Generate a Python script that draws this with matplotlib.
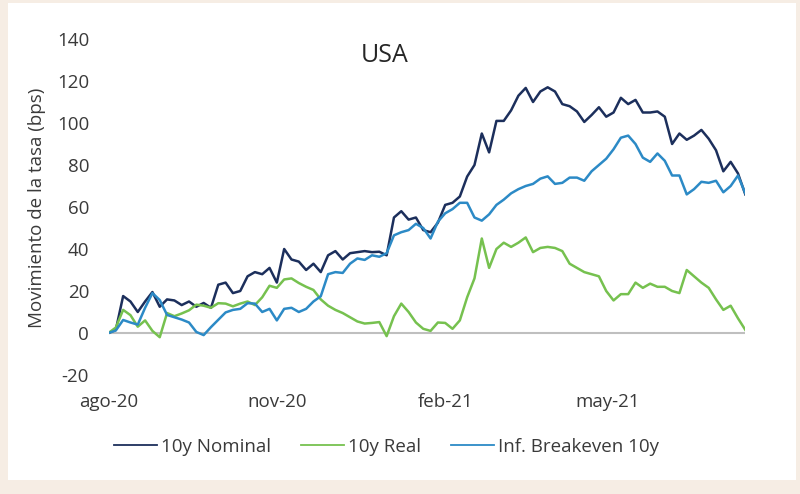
import matplotlib
matplotlib.use("Agg")
import matplotlib.pyplot as plt
import matplotlib.patches as mpatches
import matplotlib.lines as mlines
import pandas as pd

plt.rcParams['font.family'] = ['Open Sans', 'DejaVu Sans']
plt.rcParams['axes.unicode_minus'] = False

# ---- data (4-day sampling) ----
start_date = "2020-08-01"
end_date = "2021-07-15"

nominal = [0, 1.5, 17.6, 15, 10, 15, 19.5, 12.5, 16, 15.5,
           13.3, 15, 12.5, 14.3, 12, 23, 24, 19, 20, 27,
           29, 28, 31, 24, 40, 35, 34, 30, 33, 29,
           37, 39, 35, 38, 38.5, 39, 38.5, 38.7, 37, 55,
           58, 54, 55, 49, 48, 52.5, 61, 62, 65, 74.5,
           80, 95, 86, 101, 101, 106, 113, 116.7, 110, 115,
           117, 115, 109, 108, 105.5, 100.5, 103.8, 107.5, 103, 105,
           112, 109, 111, 105, 105, 105.5, 103, 90, 95, 92,
           94, 96.7, 92.5, 87, 77, 81.5, 76, 66]

real = [0, 2.6, 11, 8.5, 3, 6, 1, -2, 9.5, 8,
        9.3, 10.8, 13.5, 13, 12, 14.2, 14, 12.7, 14, 15,
        13.3, 17, 22.5, 21.5, 25.5, 26, 23.8, 22, 20.5, 16,
        13, 11, 9.5, 7.5, 5.5, 4.5, 4.8, 5.2, -1.5, 8,
        14, 10, 5, 2, 1, 5, 4.8, 2, 6, 17,
        26, 45, 31, 40, 43, 41, 43, 45.5, 38.5, 40.5,
        41, 40.5, 39, 33, 31, 29, 28, 27, 20, 15.5,
        18.5, 18.5, 24, 21.5, 23.5, 22, 22, 20, 19, 30,
        27, 24, 21.5, 16, 11, 13, 7, 1.5]

breakeven = [0, 1.2, 6.2, 5, 4, 12, 19, 15.7, 8.6, 7.5,
             6.4, 5, 0.5, -1, 2.8, 6.3, 9.8, 11, 11.5, 14.2,
             14, 10, 11.5, 6, 11.5, 12, 10, 11.5, 15, 17.5,
             28, 29, 28.6, 33, 35.5, 34.8, 37, 36.3, 38, 46.5,
             48, 49, 52, 50, 45, 53, 57, 59, 62, 62,
             55, 53.5, 56.5, 61, 63.5, 66.5, 68.5, 70, 71, 73.5,
             74.6, 71, 71.5, 74, 74, 72.5, 77, 80, 83, 87.5,
             93, 94, 90, 83.5, 81.5, 85.5, 82, 75, 75, 66,
             68.5, 72, 71.5, 72.5, 67, 70, 75, 66.5]

tick_dates = ["2020-08-01", "2020-11-01", "2021-02-01", "2021-05-01"]
tick_labels = ["ago-20", "nov-20", "feb-21", "may-21"]
y_ticks = [-20, 0, 20, 40, 60, 80, 100, 120, 140]

series_names = ["10y Nominal", "10y Real", "Inf. Breakeven 10y"]
colors = ["#1c2f5c", "#76c14f", "#2c8ac6"]

dates = pd.date_range(start_date, end_date, periods=len(nominal))

W, H = 800, 494
fig = plt.figure(figsize=(W / 100, H / 100), dpi=100)
fig.patch.set_facecolor("#f6ede4")
# white panel
fig.patches.append(mpatches.Rectangle((8 / W, 1 - 480 / H), (796 - 8) / W, (480 - 3) / H,
                                      transform=fig.transFigure, facecolor="white",
                                      edgecolor="none", zorder=-10))

ax = fig.add_axes([108.5 / W, 1 - 375 / H, (745.3 - 108.5) / W, (375 - 39) / H])
ax.set_facecolor("none")
ax.set_zorder(5)

text_color = "#3a3a3a"
for vals, name, c in zip([nominal, real, breakeven], series_names, colors):
    ax.plot(dates, vals, color=c, lw=1.8, label=name, solid_joinstyle="round")

ax.axhline(0, color="#bfbfbf", lw=1.5, zorder=0.5)

ax.set_xlim(dates[0], dates[-1])
ax.set_ylim(-20, 140)
ax.set_yticks(y_ticks)
ax.set_xticks(pd.to_datetime(tick_dates))
ax.set_xticklabels(tick_labels)
for s in ax.spines.values():
    s.set_visible(False)
ax.tick_params(axis="y", length=0, pad=14, labelsize=13.5, labelcolor=text_color)
ax.tick_params(axis="x", length=0, pad=13, labelsize=13.5, labelcolor=text_color)

fig.text(37 / W, 1 - 207.5 / H, "Movimiento de la tasa (bps)", rotation=90,
         ha="center", va="center", fontsize=13.5, color=text_color)
fig.text(385 / W, 1 - 62 / H, "USA", ha="center", va="baseline", fontsize=18, color="#262626")

leg_handles = [mlines.Line2D([], [], color=c, lw=1.3) for c in colors]
fig.legend(leg_handles, series_names, loc="center", bbox_to_anchor=(386.5 / W, 1 - 447 / H),
           ncol=3, frameon=False, fontsize=13.5, handlelength=2.3, handletextpad=0.2,
           columnspacing=1.6, labelcolor=text_color)

fig.savefig("out.png", dpi=100)
